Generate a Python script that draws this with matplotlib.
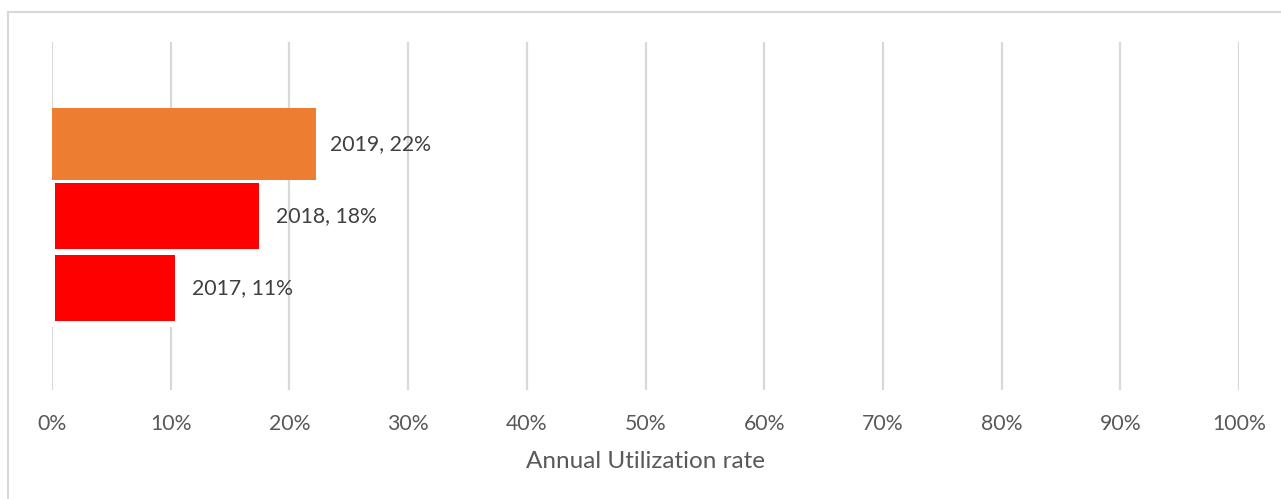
import matplotlib.pyplot as plt
from matplotlib.lines import Line2D
from matplotlib.ticker import PercentFormatter

plt.rcParams['font.family'] = ['Lato', 'DejaVu Sans']

# utilization per year, bottom to top
years = ['2017', '2018', '2019']
rates = [0.106, 0.177, 0.222]
colors = ['#FF0000', '#FF0000', '#ED7D31']
edges = ['white', 'white', 'none']

ticks = [i / 10 for i in range(11)]

fig = plt.figure(figsize=(12.81, 4.99), dpi=100)
ax = fig.add_axes([52 / 1281, 1 - 390 / 499, (1239 - 52) / 1281, (390 - 42) / 499])

pos = list(range(len(years)))
for p, r, c, e in zip(pos, rates, colors, edges):
    ax.barh(p, r, height=1.0, color=c, edgecolor=e, linewidth=4.3, zorder=3)
    ax.text(r + 0.012, p, f'{years[p]}, {r:.0%}', va='center', ha='left',
            fontsize=15.3, color='#404040', zorder=4)

ax.set_xlim(0, 1)
ax.set_ylim(-1.42, 3.42)
ax.set_xticks(ticks)
ax.xaxis.set_major_formatter(PercentFormatter(1.0, decimals=0))
ax.set_yticks([])
ax.grid(axis='x', color='#D9D9D9', linewidth=1.6)
ax.set_axisbelow(True)
for s in ax.spines.values():
    s.set_visible(False)
ax.tick_params(axis='x', length=0, pad=17.5, labelsize=15.3, labelcolor='#595959')
ax.set_xlabel('Annual Utilization rate', fontsize=17.5, color='#595959', labelpad=12)

# chart frame, top and left edges
fig.add_artist(Line2D([8 / 1281, 1], [1 - 12 / 499, 1 - 12 / 499],
                      transform=fig.transFigure, color='#D9D9D9', linewidth=1.5))
fig.add_artist(Line2D([8 / 1281, 8 / 1281], [0, 1 - 12 / 499],
                      transform=fig.transFigure, color='#D9D9D9', linewidth=1.5))

fig.savefig('out.png', dpi=100)
